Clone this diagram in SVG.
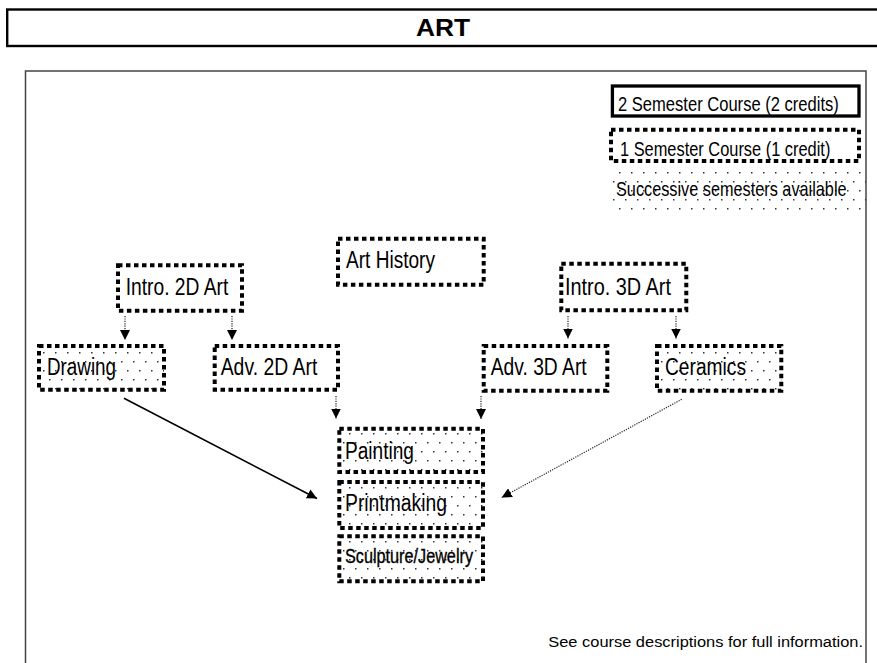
<svg xmlns="http://www.w3.org/2000/svg" width="877" height="663" viewBox="0 0 877 663">
<style>
  text { font-family: "Liberation Sans", Arial, sans-serif; fill: #000; }
  .node { font-size: 23.5px; }
  .leg { font-size: 20.5px; }
  .dash { fill: none; stroke: #000; stroke-width: 4; stroke-dasharray: 4.5 3.5; }
  .dots { fill: url(#dotfill); stroke: none; }
  .conn { fill: none; stroke: #222; stroke-width: 1.2; stroke-dasharray: 1.2 1.2; }
  .solid { fill: none; stroke: #000; stroke-width: 1.6; }
</style>
<defs>
  <pattern id="dotfill" x="0" y="0" width="12" height="18" patternUnits="userSpaceOnUse">
    <rect x="1" y="1" width="1.5" height="1.5" fill="#333"/>
    <rect x="7" y="10" width="1.5" height="1.5" fill="#333"/>
  </pattern>
  <marker id="arr" markerUnits="userSpaceOnUse" markerWidth="10" markerHeight="10" refX="10" refY="5" orient="auto" viewBox="0 0 10 10">
    <path d="M0,0 L10,5 L0,10 z" fill="#000"/>
  </marker>
</defs>
<rect width="877" height="663" fill="#fff"/>

<g id="title">
  <rect x="7.2" y="9.5" width="880" height="36.5" fill="none" stroke="#000" stroke-width="2.4"/>
  <text x="443" y="35.7" font-size="24" font-weight="bold" text-anchor="middle" textLength="54" lengthAdjust="spacingAndGlyphs">ART</text>
</g>

<g id="frame">
  <rect x="25.5" y="71" width="840.5" height="620" fill="none" stroke="#444" stroke-width="1.5"/>
</g>

<g id="legend">
  <g id="legend-2sem">
    <rect x="612.4" y="86" width="246.6" height="30" fill="none" stroke="#000" stroke-width="3.3"/>
    <text class="leg" transform="translate(618,111) scale(0.808,1)">2 Semester Course (2 credits)</text>
  </g>
  <g id="legend-1sem">
    <rect class="dash" x="611" y="129.7" width="248" height="31.3"/>
    <text class="leg" transform="translate(620,156) scale(0.8,1)">1 Semester Course (1 credit)</text>
  </g>
  <g id="legend-succ">
    <rect class="dots" x="613" y="172" width="253" height="38"/>
    <text class="leg" transform="translate(616,195.7) scale(0.794,1)">Successive semesters available</text>
  </g>
</g>

<g id="connectors">
  <line class="conn" x1="125" y1="316" x2="125" y2="340" marker-end="url(#arr)"/>
  <line class="conn" x1="232" y1="316" x2="232" y2="340" marker-end="url(#arr)"/>
  <line class="conn" x1="568" y1="316" x2="568" y2="338.5" marker-end="url(#arr)"/>
  <line class="conn" x1="676" y1="316" x2="676" y2="338.5" marker-end="url(#arr)"/>
  <line class="conn" x1="336" y1="396" x2="336" y2="418.5" marker-end="url(#arr)"/>
  <line class="conn" x1="481" y1="396" x2="481" y2="419" marker-end="url(#arr)"/>
  <line class="solid" x1="124" y1="398.3" x2="317" y2="498.5" marker-end="url(#arr)"/>
  <line class="conn" x1="681.7" y1="399.3" x2="501.7" y2="497.5" marker-end="url(#arr)"/>
</g>

<g id="intro-2d">
  <rect class="dash" x="118" y="265.3" width="124" height="45.4"/>
  <text class="node" x="125.7" y="295" textLength="102.6" lengthAdjust="spacingAndGlyphs">Intro. 2D Art</text>
</g>
<g id="art-history">
  <rect class="dash" x="338" y="238.7" width="145.7" height="46"/>
  <text class="node" x="346" y="267.5" textLength="89" lengthAdjust="spacingAndGlyphs">Art History</text>
</g>
<g id="intro-3d">
  <rect class="dash" x="561.3" y="263.7" width="125" height="46.6"/>
  <text class="node" x="565" y="295" textLength="106" lengthAdjust="spacingAndGlyphs">Intro. 3D Art</text>
</g>
<g id="drawing">
  <rect class="dots" x="39" y="346" width="125" height="43.7"/>
  <rect class="dash" x="39" y="346" width="125" height="43.7"/>
  <text class="node" x="47" y="375" textLength="69" lengthAdjust="spacingAndGlyphs">Drawing</text>
</g>
<g id="adv-2d">
  <rect class="dash" x="214.7" y="346" width="123.3" height="43.7"/>
  <text class="node" x="220.7" y="375" textLength="96.6" lengthAdjust="spacingAndGlyphs">Adv. 2D Art</text>
</g>
<g id="adv-3d">
  <rect class="dash" x="483.7" y="346" width="123.6" height="44.7"/>
  <text class="node" x="490.7" y="375" textLength="96" lengthAdjust="spacingAndGlyphs">Adv. 3D Art</text>
</g>
<g id="ceramics">
  <rect class="dots" x="657" y="346" width="124.3" height="44.7"/>
  <rect class="dash" x="657" y="346" width="124.3" height="44.7"/>
  <text class="node" x="665" y="375" textLength="81" lengthAdjust="spacingAndGlyphs">Ceramics</text>
</g>
<g id="painting">
  <rect class="dots" x="339.3" y="428.7" width="143.7" height="43.3"/>
  <rect class="dash" x="339.3" y="428.7" width="143.7" height="43.3"/>
  <text class="node" x="345" y="459" textLength="69" lengthAdjust="spacingAndGlyphs">Painting</text>
</g>
<g id="printmaking">
  <rect class="dots" x="339.3" y="482" width="143.7" height="46"/>
  <rect class="dash" x="339.3" y="482" width="143.7" height="46"/>
  <text class="node" x="345" y="511" textLength="102" lengthAdjust="spacingAndGlyphs">Printmaking</text>
</g>
<g id="sculpture-jewelry">
  <rect class="dots" x="339.3" y="536.3" width="143.7" height="45"/>
  <rect class="dash" x="339.3" y="536.3" width="143.7" height="45"/>
  <text x="345" y="563" font-size="19.5" stroke="#000" stroke-width="0.35" textLength="128" lengthAdjust="spacingAndGlyphs">Sculpture/Jewelry</text>
</g>

<g id="footer">
  <text x="548.3" y="647.3" font-size="15.5" textLength="314.7" lengthAdjust="spacingAndGlyphs">See course descriptions for full information.</text>
</g>
</svg>
